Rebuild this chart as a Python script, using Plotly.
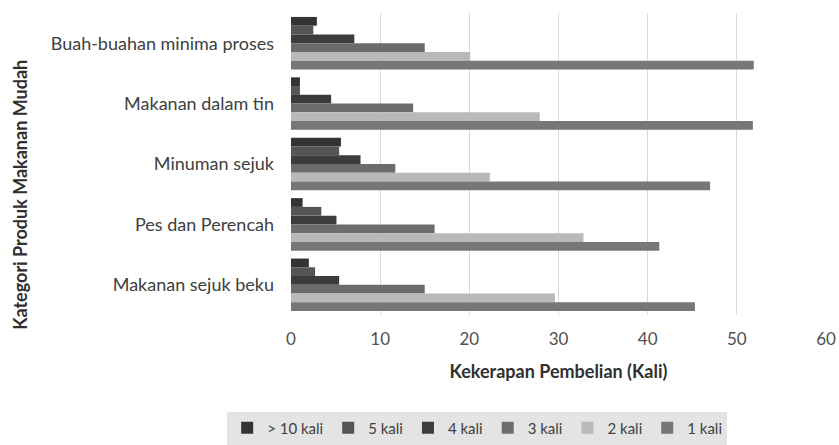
import plotly.graph_objects as go

categories = ["Buah-buahan minima proses", "Makanan dalam tin", "Minuman sejuk",
              "Pes dan Perencah", "Makanan sejuk beku"]
series_names = ["> 10 kali", "5 kali", "4 kali", "3 kali", "2 kali", "1 kali"]
v_gt10 = [2.9, 1.0, 5.6, 1.3, 2.0]
v_5 = [2.5, 1.0, 5.4, 3.4, 2.7]
v_4 = [7.1, 4.5, 7.8, 5.1, 5.4]
v_3 = [15.0, 13.7, 11.7, 16.1, 15.0]
v_2 = [20.1, 27.9, 22.3, 32.8, 29.6]
v_1 = [51.9, 51.8, 47.0, 41.3, 45.3]
series_values = [v_gt10, v_5, v_4, v_3, v_2, v_1]
colors = ["#333333", "#555555", "#3c3c3c", "#6c6c6c", "#b9b9b9", "#777777"]
x_ticks = [0, 10, 20, 30, 40, 50, 60]

font = "Lato, 'Open Sans', sans-serif"
fig = go.Figure()
for name, vals, c in zip(series_names, series_values, colors):
    fig.add_trace(go.Bar(y=categories, x=vals, name=name, orientation="h",
                         marker=dict(color=c, line=dict(width=0))))

fig.update_layout(
    width=839, height=445,
    margin=dict(l=291, r=13, t=13, b=130, autoexpand=False),
    paper_bgcolor="white", plot_bgcolor="white",
    barmode="group", bargap=0.13, bargroupgap=0,
    font=dict(family=font, size=17, color="#404040"),
    showlegend=True,
    legend=dict(orientation="h", xref="paper", x=0.348, xanchor="center",
                yref="container", y=0.038, yanchor="middle",
                bgcolor="#e4e4e4", font=dict(size=15, color="#404040"),
                itemwidth=30, traceorder="normal"),
    xaxis=dict(range=[0, 60], tickvals=x_ticks, showgrid=True, gridcolor="#d9d9d9",
               gridwidth=1, zeroline=False, showline=False, ticks="",
               ticklabelstandoff=12, automargin=False,
               tickfont=dict(size=17, color="#505050"),
               title=dict(text="<b>Kekerapan Pembelian (Kali)</b>", standoff=17,
                          font=dict(size=18, color="#303030"))),
    yaxis=dict(autorange="reversed", showgrid=False, zeroline=False, showline=False,
               ticks="", ticklabelstandoff=16, automargin=False,
               tickfont=dict(size=18, color="#404040")),
)
fig.add_annotation(text="<b>Kategori Produk Makanan Mudah</b>", textangle=-90,
                   xref="paper", yref="paper", x=-0.507, y=0.397, showarrow=False,
                   xanchor="center", yanchor="middle",
                   font=dict(size=18, color="#303030", family=font))
fig.write_html("out.html")
